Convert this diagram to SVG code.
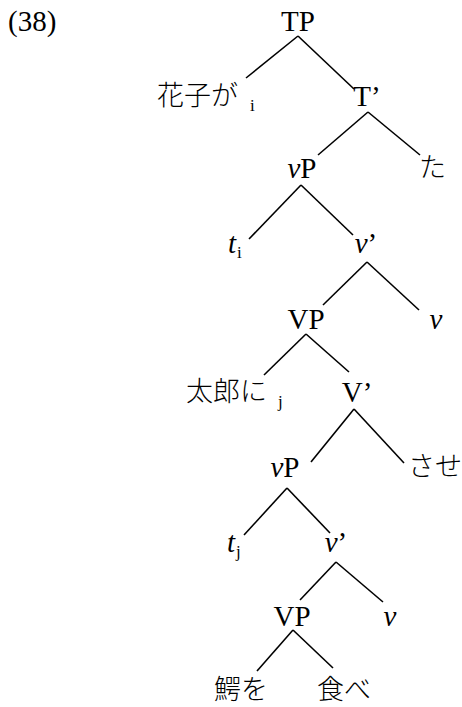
<svg xmlns="http://www.w3.org/2000/svg" width="462" height="707" viewBox="0 0 462 707">
<style>
.l{font-family:"Liberation Serif","Times New Roman",serif;font-size:29px;fill:#000}
.c{font-family:"Noto Sans CJK JP","Noto Sans CJK SC",sans-serif;font-size:27px;font-weight:300;fill:#000}
.s{font-family:"Liberation Serif",serif;font-size:17px}
.m{text-anchor:middle}
.i{font-style:italic}
#edges line{stroke:#000;stroke-width:1.6}
</style>
<rect width="462" height="707" fill="#fff"/>
<text class="l" x="8" y="31">(38)</text>
<g id="edges">
<line x1="298" y1="36" x2="246" y2="78"/>
<line x1="298" y1="36" x2="354" y2="89"/>
<line x1="368" y1="112" x2="318" y2="155"/>
<line x1="368" y1="112" x2="420" y2="155"/>
<line x1="301" y1="185" x2="249" y2="239"/>
<line x1="301" y1="185" x2="353" y2="235"/>
<line x1="367" y1="262" x2="323" y2="305"/>
<line x1="367" y1="262" x2="419" y2="310"/>
<line x1="306" y1="334" x2="264" y2="375"/>
<line x1="306" y1="334" x2="349" y2="372"/>
<line x1="354" y1="409" x2="311" y2="462"/>
<line x1="354" y1="409" x2="404" y2="463"/>
<line x1="287" y1="488" x2="244" y2="535"/>
<line x1="287" y1="488" x2="330" y2="533"/>
<line x1="336" y1="562" x2="300" y2="600"/>
<line x1="336" y1="562" x2="383" y2="602"/>
<line x1="293" y1="630" x2="257" y2="671"/>
<line x1="293" y1="630" x2="333" y2="668"/>
</g>
<g id="TP"><text class="l m" x="298" y="31">TP</text></g>
<g id="hanako"><text class="c" x="157" y="105">花子が</text><text class="s" x="250" y="111">i</text></g>
<g id="Tbar"><text class="l m" x="367" y="106">T’</text></g>
<g id="vP1"><text class="l m" x="302" y="178"><tspan class="i">v</tspan>P</text></g>
<g id="ta"><text class="c" x="419" y="177">た</text></g>
<g id="ti"><text class="l" x="228" y="253"><tspan class="i">t</tspan></text><text class="s" x="237" y="258">i</text></g>
<g id="vbar1"><text class="l m" x="366" y="253"><tspan class="i">v</tspan>’</text></g>
<g id="VP1"><text class="l m" x="306" y="329">VP</text></g>
<g id="v1"><text class="l m i" x="436" y="329">v</text></g>
<g id="taro"><text class="c" x="186" y="401">太郎に</text><text class="s" x="278" y="407">j</text></g>
<g id="Vbar"><text class="l m" x="357" y="402">V’</text></g>
<g id="vP2"><text class="l m" x="285" y="477"><tspan class="i">v</tspan>P</text></g>
<g id="sase"><text class="c" x="408" y="476">させ</text></g>
<g id="tj"><text class="l" x="227" y="552"><tspan class="i">t</tspan></text><text class="s" x="236" y="557">j</text></g>
<g id="vbar2"><text class="l m" x="336" y="552"><tspan class="i">v</tspan>’</text></g>
<g id="VP2"><text class="l m" x="292" y="626">VP</text></g>
<g id="v2"><text class="l m i" x="390" y="626">v</text></g>
<g id="wani"><text class="c" x="214" y="699">鰐を</text></g>
<g id="tabe"><text class="c" x="317" y="699">食べ</text></g>
</svg>
